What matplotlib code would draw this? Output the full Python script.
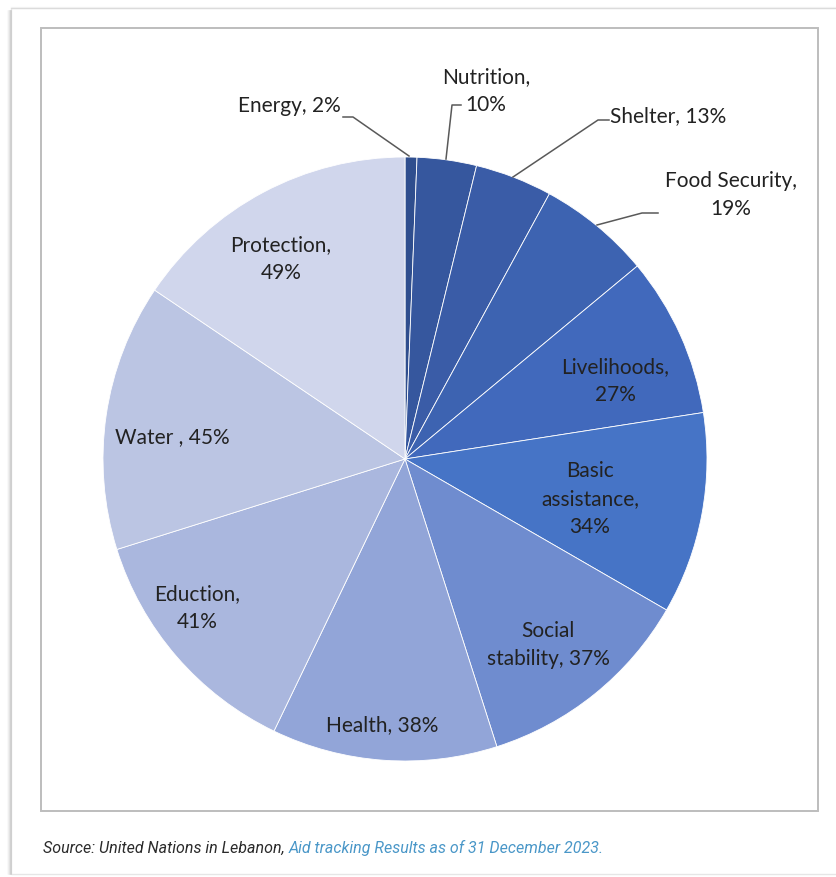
import matplotlib.pyplot as plt
from matplotlib.patches import Rectangle
from matplotlib.lines import Line2D

# Share of planned funding received per sector (%)
sectors = ["Energy", "Nutrition", "Shelter", "Food Security", "Livelihoods",
           "Basic assistance", "Social stability", "Health", "Eduction",
           "Water ", "Protection"]
shares = [2, 10, 13, 19, 27, 34, 37, 38, 41, 45, 49]
colors = ["#2F4E8E", "#36579E", "#3A5CA7", "#3D63B1", "#4169BC", "#4674C6",
          "#6F8CCF", "#92A5D8", "#AAB7DE", "#BBC5E3", "#D0D6EC"]

# label text layout (line breaks as in the chart)
label_text = {
    "Energy": "Energy, {}%",
    "Nutrition": "Nutrition,\n{}%",
    "Shelter": "Shelter, {}%",
    "Food Security": "Food Security,\n{}%",
    "Livelihoods": "Livelihoods,\n{}%",
    "Basic assistance": "Basic\nassistance,\n{}%",
    "Social stability": "Social\nstability, {}%",
    "Health": "Health, {}%",
    "Eduction": "Eduction,\n{}%",
    "Water ": "Water , {}%",
    "Protection": "Protection,\n{}%",
}

W, H = 837, 878
# label anchor points in pixel space (x, y from top), alignment
label_pos = {
    "Energy": (341, 106, "right"),
    "Nutrition": (486, 91, "center"),
    "Shelter": (610, 116, "left"),
    "Food Security": (731, 195, "center"),
    "Livelihoods": (615, 381, "center"),
    "Basic assistance": (590, 499, "center"),
    "Social stability": (548, 645, "center"),
    "Health": (382, 725, "center"),
    "Eduction": (197, 608, "center"),
    "Water ": (172, 437, "center"),
    "Protection": (281, 259, "center"),
}
# leader lines for the small outside slices: list of (x, y) px points
leaders = {
    "Energy": [(343, 118), (353, 118), (409, 157)],
    "Nutrition": [(461, 106), (452, 106), (446, 160)],
    "Shelter": [(609, 121), (598, 121), (513, 178)],
    "Food Security": [(658, 214), (642, 214), (597, 226)],
}

plt.rcParams["font.family"] = ["Lato", "DejaVu Sans"]

fig = plt.figure(figsize=(W / 100, H / 100), dpi=100)
ax = fig.add_axes([0, 0, 1, 1])
ax.set_xlim(0, W)
ax.set_ylim(0, H)
ax.set_axis_off()


def py(y):
    return H - y


# outer card with a soft shadow on the left
ax.add_patch(Rectangle((11, py(875)), W, 866, facecolor="white",
                       edgecolor="#E6E6E6", lw=1.0, zorder=0))
for i, a in enumerate([0.35, 0.22, 0.12, 0.06]):
    ax.add_line(Line2D([11 - i, 11 - i], [py(12), py(875)], color="#9A9A9A",
                       alpha=a, lw=1.2, zorder=0.5))
for i, a in enumerate([0.12, 0.06]):
    ax.add_line(Line2D([11, W], [py(9) + i, py(9) + i], color="#9A9A9A",
                       alpha=a, lw=1.0, zorder=0.5))

# chart frame
ax.add_patch(Rectangle((41, py(812)), 818 - 41, 812 - 29, facecolor="white",
                       edgecolor="#BDBDBD", lw=1.4, zorder=1))

ax.pie(shares, colors=colors, startangle=90, counterclock=False,
       center=(405, py(460)), radius=302,
       wedgeprops=dict(edgecolor="white", linewidth=0.6, zorder=2))
ax.set_xlim(0, W)
ax.set_ylim(0, H)
ax.set_aspect("auto")

for name, val in zip(sectors, shares):
    x, y, ha = label_pos[name]
    ax.text(x, py(y), label_text[name].format(val), ha=ha, va="center",
            fontsize=15, color="#222222", linespacing=1.5, zorder=4)

for name, pts in leaders.items():
    xs = [p[0] for p in pts]
    ys = [py(p[1]) for p in pts]
    ax.add_line(Line2D(xs, ys, color="#595959", lw=1.1, zorder=3))

src = ax.text(43, py(848), "Source: United Nations in Lebanon, ",
              fontsize=11.5, family=["Roboto", "DejaVu Sans"], style="italic",
              weight="normal", color="#2B2B2B", va="center", ha="left")
ax.annotate("Aid tracking Results as of 31 December 2023.", xy=(1, 0.5),
            xycoords=src, va="center", ha="left", fontsize=11.5,
            family=["Roboto", "DejaVu Sans"], style="italic", weight="normal",
            color="#4A97C8")

fig.savefig("out.png", dpi=100)
